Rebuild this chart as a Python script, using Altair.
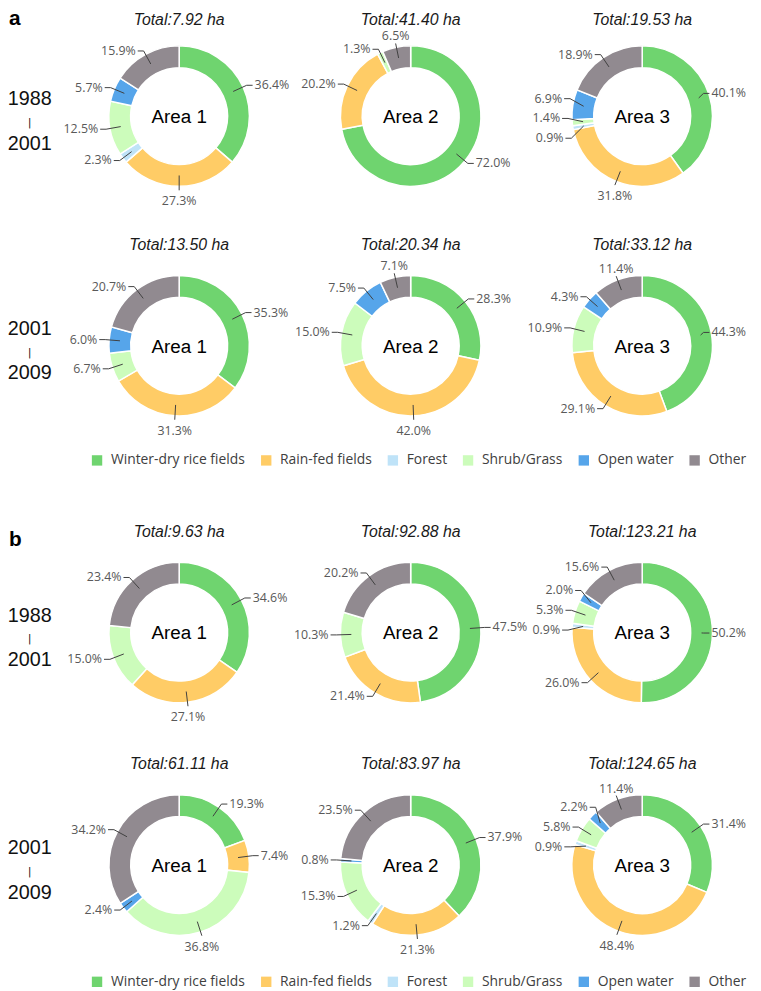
import math
import altair as alt
import pandas as pd

# ---------------- data ----------------
CATEGORIES = ["Winter-dry rice fields", "Rain-fed fields", "Forest",
              "Shrub/Grass", "Open water", "Other"]
COLORS = ["#6fd46f", "#ffcc66", "#bfe3f8", "#ccfcbb", "#56a5ea", "#918a90"]

AREA_NAMES = ["Area 1", "Area 2", "Area 3"]
PERIOD_LABELS = [("1988", "2001"), ("2001", "2009")]
PANEL_LETTERS = ["a", "b"]

TOTALS_A_1988 = [7.92, 41.40, 19.53]
TOTALS_A_2001 = [13.50, 20.34, 33.12]
TOTALS_B_1988 = [9.63, 92.88, 123.21]
TOTALS_B_2001 = [61.11, 83.97, 124.65]

# shares in %, in the order of CATEGORIES (one list per area)
A_1988 = [
    [36.4, 27.3, 2.3, 12.5, 5.7, 15.9],
    [72.0, 20.2, 0.0, 1.3, 0.0, 6.5],
    [40.1, 31.8, 0.9, 1.4, 6.9, 18.9],
]
A_2001 = [
    [35.3, 31.3, 0.0, 6.7, 6.0, 20.7],
    [28.3, 42.0, 0.0, 15.0, 7.5, 7.1],
    [44.3, 29.1, 0.0, 10.9, 4.3, 11.4],
]
B_1988 = [
    [34.6, 27.1, 0.0, 15.0, 0.0, 23.4],
    [47.5, 21.4, 0.0, 10.3, 0.0, 20.2],
    [50.2, 26.0, 0.9, 5.3, 2.0, 15.6],
]
B_2001 = [
    [19.3, 7.4, 0.0, 36.8, 2.4, 34.2],
    [37.9, 21.3, 1.2, 15.3, 0.8, 23.5],
    [31.4, 48.4, 0.9, 5.8, 2.2, 11.4],
]

# ---------------- layout (page pixels) ----------------
COL_X = [181, 415, 649]
ROW_Y = {"a": [112, 344], "b": [634, 869]}
R_OUT, R_IN = 71, 49
R_ANCHOR, R_ELBOW = 60, 75
LABEL_GAP = 20
TITLE_MIN_Y = 20
PCT_FS = 12.5
RIGHT_LIMIT = 754

PAGE_W, PAGE_H = 761, 991
XS = alt.Scale(domain=[8, PAGE_W])
YS = alt.Scale(domain=[8, PAGE_H], reverse=True)


def spread(ys, gap):
    ys = list(ys)
    for _ in range(300):
        moved = False
        for i in range(1, len(ys)):
            d = ys[i] - ys[i - 1]
            if d < gap - 1e-6:
                sh = (gap - d) / 2
                ys[i - 1] -= sh
                ys[i] += sh
                moved = True
        if not moved:
            break
    return ys


def text_w(t):
    return ((len(t) - 2) * 0.572 + 0.266 + 0.823) * PCT_FS


donuts = [
    ("a", 0, A_1988, TOTALS_A_1988),
    ("a", 1, A_2001, TOTALS_A_2001),
    ("b", 0, B_1988, TOTALS_B_1988),
    ("b", 1, B_2001, TOTALS_B_2001),
]

arc_rows, seg_rows, lab_rows, title_rows, area_rows, row_rows = [], [], [], [], [], []
for panel, r, shares, totals in donuts:
    cy = ROW_Y[panel][r]
    top_lab, bot_lab = PERIOD_LABELS[r]
    row_rows.append(dict(x=30, y=cy - 11, text=top_lab, kind="big"))
    row_rows.append(dict(x=30, y=cy + 10, text="|", kind="bar"))
    row_rows.append(dict(x=30, y=cy + 34, text=bot_lab, kind="big"))
    for c in range(3):
        cx = COL_X[c]
        vals = shares[c]
        tot = sum(vals)
        title_rows.append(dict(x=cx, y=max(cy - 97, TITLE_MIN_Y),
                               text=f"Total:{totals[c]:.2f} ha"))
        area_rows.append(dict(x=cx, y=cy + 7, text=AREA_NAMES[c]))
        cum = 0.0
        sides = {"L": [], "R": []}
        for k, v in enumerate(vals):
            if v <= 0:
                continue
            t0 = cum / tot
            cum += v
            t1 = cum / tot
            arc_rows.append(dict(panel=panel, cx=cx, cy=cy, t0=t0, t1=t1,
                                 cat=CATEGORIES[k]))
            th = 2 * math.pi * (t0 + t1) / 2
            s, co = math.sin(th), math.cos(th)
            ax, ay = cx + R_ANCHOR * s, cy - R_ANCHOR * co
            lab = f"{v:.1f}%"
            if abs(s) < 0.4:
                ex, ey = cx + R_ELBOW * s, cy - R_ELBOW * co
                seg_rows.append(dict(x=ax, y=ay, x2=ex, y2=ey))
                if co > 0:
                    lab_rows.append(dict(kind="above", x=ex, y=ey - 3, text=lab))
                else:
                    lab_rows.append(dict(kind="below", x=ex, y=ey + 5, text=lab))
            else:
                sides["R" if s > 0 else "L"].append(
                    dict(ax=ax, ay=ay, y=cy - R_ELBOW * co, text=lab))
        for key, items in sides.items():
            items.sort(key=lambda d: d["y"])
            ys = spread([it["y"] for it in items], LABEL_GAP)
            sign = 1 if key == "R" else -1
            for it, y in zip(items, ys):
                dy = y - cy
                dx = max(math.sqrt(max(R_ELBOW ** 2 - dy ** 2, 0.0)), 10.0)
                ex = cx + sign * dx
                tx = ex + sign * 6
                lx = tx + sign * 2
                if sign > 0 and lx + text_w(it["text"]) > RIGHT_LIMIT:
                    lx = RIGHT_LIMIT - text_w(it["text"])
                    tx = lx - 2
                    ex = tx - 6
                seg_rows.append(dict(x=it["ax"], y=it["ay"], x2=ex, y2=y))
                seg_rows.append(dict(x=ex, y=y, x2=tx, y2=y))
                lab_rows.append(dict(kind="right" if key == "R" else "left",
                                     x=lx, y=y, text=it["text"]))

arc_df = pd.DataFrame(arc_rows)
arc_a = arc_df[arc_df["panel"] == "a"].copy()
arc_b = arc_df[arc_df["panel"] == "b"].rename(columns={"cat": "category"}).copy()
seg_df = pd.DataFrame(seg_rows)
lab_df = pd.DataFrame(lab_rows)
title_df = pd.DataFrame(title_rows)
area_df = pd.DataFrame(area_rows)
row_df = pd.DataFrame(row_rows)
letter_df = pd.DataFrame(dict(x=[9, 9], y=[20, 547], text=PANEL_LETTERS))

X = lambda f: alt.X(f, scale=XS, axis=None)
Y = lambda f: alt.Y(f, scale=YS, axis=None)

legend_common = dict(orient="none", direction="horizontal", title=None,
                     symbolType="square", symbolSize=110, symbolStrokeWidth=0,
                     labelFont="Open Sans", labelFontSize=14, labelColor="#404040",
                     labelOffset=7, columnPadding=14, legendX=83)

arcs_a = alt.Chart(arc_a).mark_arc(outerRadius=R_OUT, innerRadius=R_IN,
                                   stroke="white", strokeWidth=1.5).encode(
    x=X("cx:Q"), y=Y("cy:Q"),
    theta=alt.Theta("t0:Q", scale=alt.Scale(domain=[0, 1]), stack=None),
    theta2="t1:Q",
    color=alt.Color("cat:N", scale=alt.Scale(domain=CATEGORIES, range=COLORS),
                    legend=alt.Legend(legendY=445, **legend_common)),
)

arcs_b = alt.Chart(arc_b).mark_arc(outerRadius=R_OUT, innerRadius=R_IN,
                                   stroke="white", strokeWidth=1.5).encode(
    x=X("cx:Q"), y=Y("cy:Q"),
    theta=alt.Theta("t0:Q", scale=alt.Scale(domain=[0, 1]), stack=None),
    theta2="t1:Q",
    fill=alt.Fill("category:N", sort=CATEGORIES, scale=alt.Scale(range=COLORS),
                  legend=alt.Legend(legendY=972, **legend_common)),
)

segs = alt.Chart(seg_df).mark_rule(color="#404040", strokeWidth=1).encode(
    x=X("x:Q"), y=Y("y:Q"), x2="x2:Q", y2="y2:Q")

PCT_STYLE = dict(font="Open Sans", fontSize=PCT_FS, color="#595959")


def pct_layer(kind, **mk):
    return alt.Chart(lab_df).transform_filter(alt.datum.kind == kind).mark_text(
        **PCT_STYLE, **mk).encode(x=X("x:Q"), y=Y("y:Q"), text="text:N")


pct_right = pct_layer("right", align="left", baseline="middle")
pct_left = pct_layer("left", align="right", baseline="middle")
pct_above = pct_layer("above", align="center", baseline="alphabetic")
pct_below = pct_layer("below", align="center", baseline="top")

titles = alt.Chart(title_df).mark_text(
    font="Liberation Sans", fontSize=16, fontStyle="italic", color="#1a1a1a",
    align="center", baseline="alphabetic").encode(x=X("x:Q"), y=Y("y:Q"), text="text:N")

areas = alt.Chart(area_df).mark_text(
    font="Liberation Sans", fontSize=19, color="#000000",
    align="center", baseline="alphabetic").encode(x=X("x:Q"), y=Y("y:Q"), text="text:N")

rows_big = alt.Chart(row_df).transform_filter(alt.datum.kind == "big").mark_text(
    font="Liberation Sans", fontSize=20, color="#111111",
    align="center", baseline="alphabetic").encode(x=X("x:Q"), y=Y("y:Q"), text="text:N")

rows_bar = alt.Chart(row_df).transform_filter(alt.datum.kind == "bar").mark_text(
    font="DejaVu Sans", fontSize=10, color="#000000",
    align="center", baseline="alphabetic").encode(x=X("x:Q"), y=Y("y:Q"), text="text:N")

letters = alt.Chart(letter_df).mark_text(
    font="Liberation Sans", fontSize=21, fontWeight="bold", color="#000000",
    align="left", baseline="alphabetic").encode(x=X("x:Q"), y=Y("y:Q"), text="text:N")

chart = alt.layer(
    arcs_a, arcs_b, segs, pct_right, pct_left, pct_above, pct_below,
    titles, areas, rows_big, rows_bar, letters,
).properties(
    width=PAGE_W - 8, height=PAGE_H - 8,
    autosize=alt.AutoSizeParams(type="none"), padding=0,
).configure_view(strokeWidth=0).resolve_legend(color="independent", fill="independent")

chart.save("out.html", embed_options={"renderer": "svg", "actions": False})
